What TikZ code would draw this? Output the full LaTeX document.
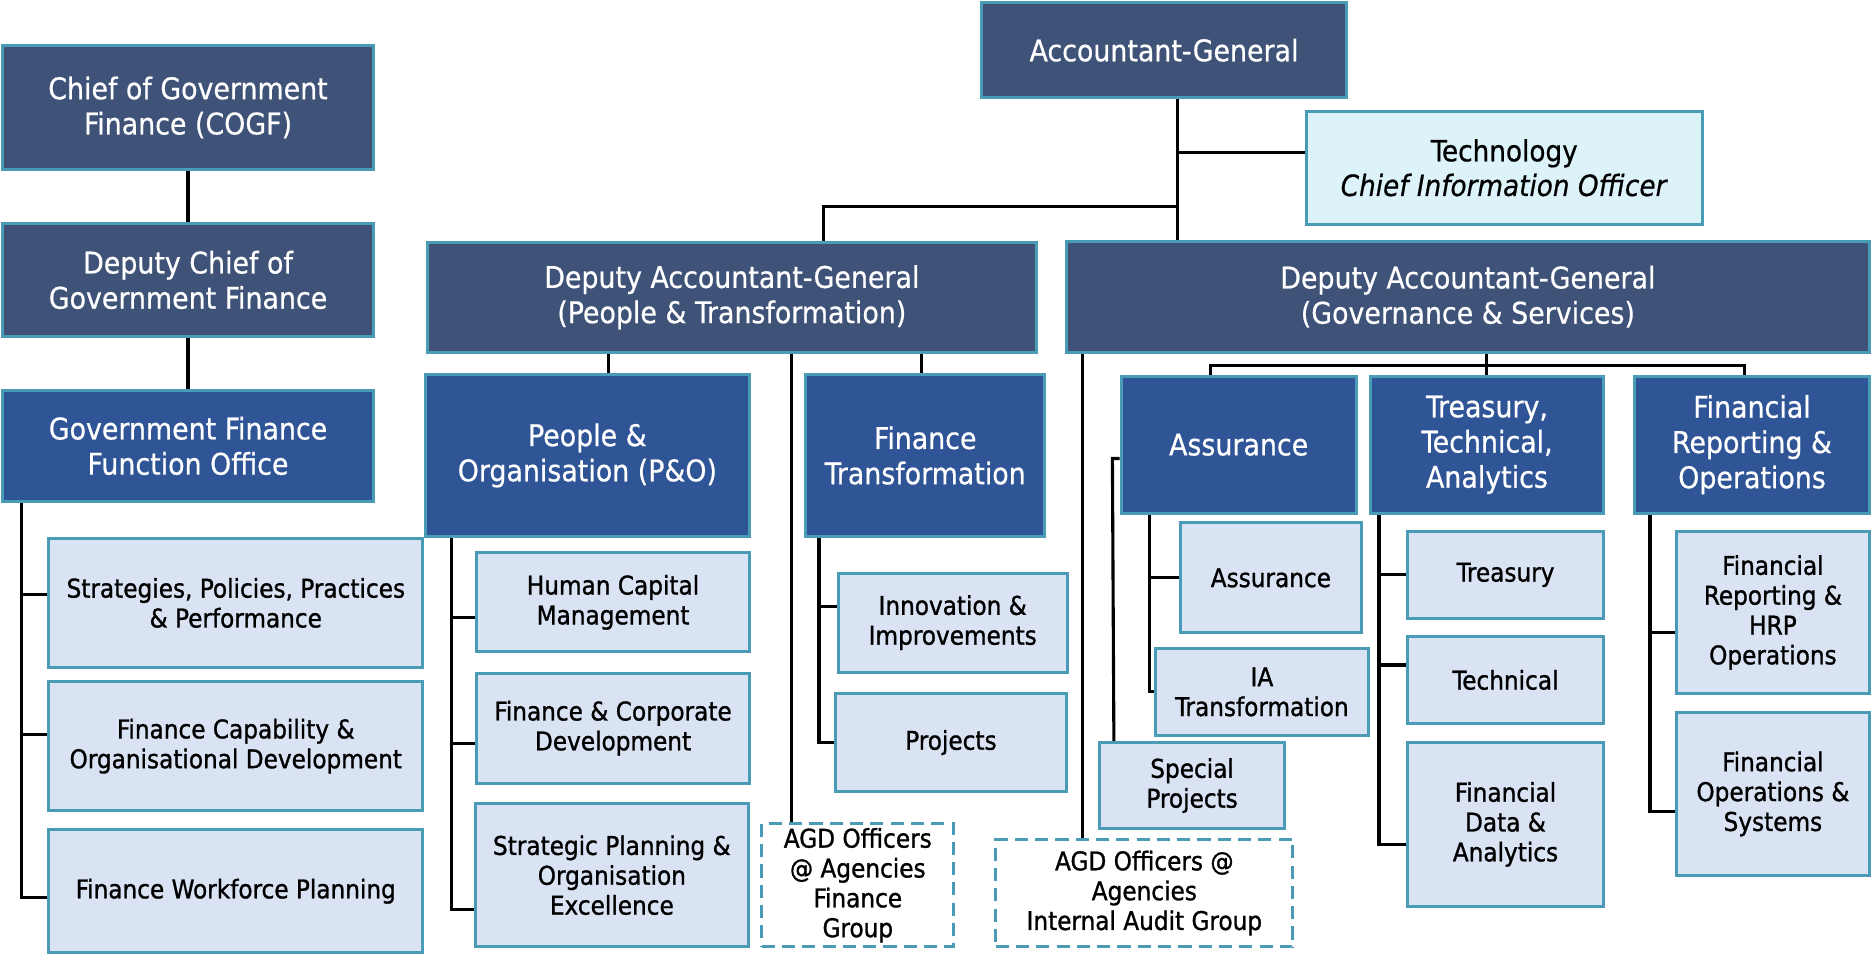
\documentclass[tikz,border=0pt]{standalone}
\usepackage{fontspec}
\setmainfont{DejaVu Sans Condensed}[ItalicFont={DejaVu Sans Condensed Oblique}, BoldFont={DejaVu Sans Condensed Bold}]
\newfontfamily\hdrfont{DejaVu Sans Condensed}[FakeBold=0.6, ItalicFont={DejaVu Sans Condensed Oblique}, ItalicFeatures={FakeBold=0.6}]
\newfontfamily\lgtfont{DejaVu Sans Condensed}[FakeBold=1.1, ItalicFont={DejaVu Sans Condensed Oblique}, ItalicFeatures={FakeBold=1.1}]
\definecolor{darkc}{HTML}{3F5278}
\definecolor{medc}{HTML}{2F5597}
\definecolor{lightc}{HTML}{DAE3F3}
\definecolor{techc}{HTML}{DCF3FA}
\definecolor{bord}{HTML}{4A9BB5}
\tikzset{
  box/.style={draw=bord, line width=2.5pt, align=center, inner sep=0pt, rectangle},
  darkbox/.style={box, fill=darkc, text=white, font=\hdrfont\fontsize{25}{29.5}\selectfont},
  medbox/.style={box, fill=medc, text=white, font=\hdrfont\fontsize{25}{29.5}\selectfont},
  lightbox/.style={box, fill=lightc, text=black, font=\lgtfont\fontsize{21.6}{25}\selectfont},
  techbox/.style={box, fill=techc, text=black, font=\hdrfont\fontsize{24.5}{29}\selectfont},
  dashbox/.style={box, fill=white, text=black, dash pattern=on 11pt off 6pt, font=\lgtfont\fontsize{21.6}{25}\selectfont},
  conn/.style={line width=2.6pt, black},
}
\begin{document}
\begin{tikzpicture}[x=1pt, y=-1pt]
\useasboundingbox (0,0) rectangle (1568,806);
% left column
\node[darkbox, minimum width=311pt, minimum height=104pt] (cogf) at (157.5,90) {Chief of Government\\Finance (COGF)};
\node[darkbox, minimum width=311pt, minimum height=95pt] (dcgf) at (157.5,234.5) {Deputy Chief of\\Government Finance};
\node[medbox, minimum width=311pt, minimum height=93pt] (gffo) at (157.5,373.5) {Government Finance\\Function Office};
\node[lightbox, minimum width=313pt, minimum height=108pt] (strat) at (197.5,505) {Strategies, Policies, Practices\\\& Performance};
\node[lightbox, minimum width=313pt, minimum height=108pt] (fincap) at (197.5,625) {Finance Capability \&\\Organisational Development};
\node[lightbox, minimum width=313pt, minimum height=103pt] (wf) at (197.5,746.5) {Finance Workforce Planning};
% top
\node[darkbox, minimum width=306pt, minimum height=80pt] (ag) at (975,42) {Accountant-General};
\node[techbox, minimum width=332pt, minimum height=95pt] (tech) at (1260,140.5) {Technology\\\textit{Chief Information Officer}};
\node[darkbox, minimum width=510pt, minimum height=92pt] (dagpt) at (613,249) {Deputy Accountant-General\\(People \& Transformation)};
\node[darkbox, minimum width=673pt, minimum height=93pt] (dags) at (1229.5,248.5) {Deputy Accountant-General\\(Governance \& Services)};
% P&T side
\node[medbox, minimum width=272pt, minimum height=135pt] (po) at (492,381.5) {People \&\\Organisation (P\&O)};
\node[medbox, minimum width=200pt, minimum height=135pt] (ft) at (775,381.5) {Finance\\Transformation};
\node[lightbox, minimum width=229pt, minimum height=83pt] (hcm) at (513.5,504.5) {Human Capital\\Management};
\node[lightbox, minimum width=229pt, minimum height=92pt] (fcd) at (513.5,610) {Finance \& Corporate\\Development};
\node[lightbox, minimum width=229pt, minimum height=120pt] (spoe) at (512.5,733) {Strategic Planning \&\\Organisation\\Excellence};
\node[lightbox, minimum width=192pt, minimum height=83pt] (innov) at (798,521.5) {Innovation \&\\Improvements};
\node[lightbox, minimum width=193pt, minimum height=82pt] (proj) at (796.5,622) {Projects};
\node[dashbox, minimum width=161pt, minimum height=103pt] (agdf) at (718.5,741.5) {AGD Officers\\@ Agencies\\Finance\\Group};
% G&S side
\node[dashbox, minimum width=249pt, minimum height=90pt] (agdia) at (958.5,748) {AGD Officers @\\Agencies\\Internal Audit Group};
\node[medbox, minimum width=197pt, minimum height=115pt] (assur) at (1037.5,372.5) {Assurance};
\node[medbox, minimum width=195pt, minimum height=115pt] (tta) at (1245.5,372.5) {Treasury,\\Technical,\\Analytics};
\node[medbox, minimum width=197pt, minimum height=115pt] (fro) at (1467.5,372.5) {Financial\\Reporting \&\\Operations};
\node[lightbox, minimum width=151pt, minimum height=92pt] (assurc) at (1064.5,484) {Assurance};
\node[lightbox, minimum width=178pt, minimum height=73pt] (iat) at (1057,579.5) {IA\\Transformation};
\node[lightbox, minimum width=155pt, minimum height=72pt] (specp) at (998.5,658) {Special\\Projects};
\node[lightbox, minimum width=164pt, minimum height=73pt] (treas) at (1261,481.5) {Treasury};
\node[lightbox, minimum width=164pt, minimum height=73pt] (techn) at (1261,569.5) {Technical};
\node[lightbox, minimum width=164pt, minimum height=137pt] (fda) at (1261,690.5) {Financial\\Data \&\\Analytics};
\node[lightbox, minimum width=162pt, minimum height=136pt] (frhrp) at (1485,513) {Financial\\Reporting \&\\HRP\\Operations};
\node[lightbox, minimum width=162pt, minimum height=136pt] (fos) at (1485,665) {Financial\\Operations \&\\Systems};
% trunk coordinates
\coordinate (lt) at (18,0);
\coordinate (agx) at (986,0);
\coordinate (ptx) at (690,173);
\coordinate (pox) at (510,0);
\coordinate (ftx) at (772,0);
\coordinate (agdfx) at (663,0);
\coordinate (pot) at (378,0);
\coordinate (ftt) at (686,0);
\coordinate (iax) at (907,0);
\coordinate (gsx) at (1245,306);
\coordinate (asx) at (1014,306);
\coordinate (frx) at (1461,306);
\coordinate (act) at (963,0);
\coordinate (spx) at (933,0);
\coordinate (ttt) at (1155,0);
\coordinate (frt) at (1382,0);
% connectors
\begin{scope}[conn]
\draw (cogf.south) -- (dcgf.north);
\draw (dcgf.south) -- (gffo.north);
\draw (gffo.south -| lt) |- ([yshift=-5.5pt]wf.west);
\draw ([yshift=7pt]strat.west) -- ++(-23,0);
\draw ([yshift=10pt]fincap.west) -- ++(-23,0);
\draw (ag.south -| agx) -- (dags.north -| agx);
\draw ([yshift=12.5pt]tech.west) -- ++(-108,0);
\draw (agx |- ptx) -- (ptx) -- (dagpt.north -| ptx);
\draw (dagpt.south -| pox) -- (po.north -| pox);
\draw (dagpt.south -| ftx) -- (ft.north -| ftx);
\draw (dagpt.south -| agdfx) -- (agdf.north -| agdfx);
\draw (po.south -| pot) |- ([yshift=-29pt]spoe.west);
\draw ([yshift=-12.5pt]hcm.west) -- ++(-21,0);
\draw ([yshift=-13pt]fcd.west) -- ++(-21,0);
\draw (ft.south -| ftt) |- (proj.west);
\draw ([yshift=13.5pt]innov.west) -- ++(-16,0);
\draw (dags.south -| iax) -- (agdia.north -| iax);
\draw (dags.south -| gsx) -- (tta.north -| gsx);
\draw (assur.north -| asx) -- (asx) -- (frx) -- (fro.north -| frx);
\draw (assur.south -| act) |- (iat.west);
\draw (assurc.west) -- ++(-26,0);
\draw ([yshift=-11.5pt]assur.west) -- ++(-6,0) -- (specp.north -| spx);
\draw (tta.south -| ttt) |- ([yshift=-16.5pt]fda.west);
\draw (treas.west) -- ++(-24,0);
\draw ([yshift=12.5pt]techn.west) -- ++(-24,0);
\draw (fro.south -| frt) |- ([yshift=-15pt]fos.west);
\draw ([yshift=-17pt]frhrp.west) -- ++(-22,0);
\end{scope}
\end{tikzpicture}
\end{document}
